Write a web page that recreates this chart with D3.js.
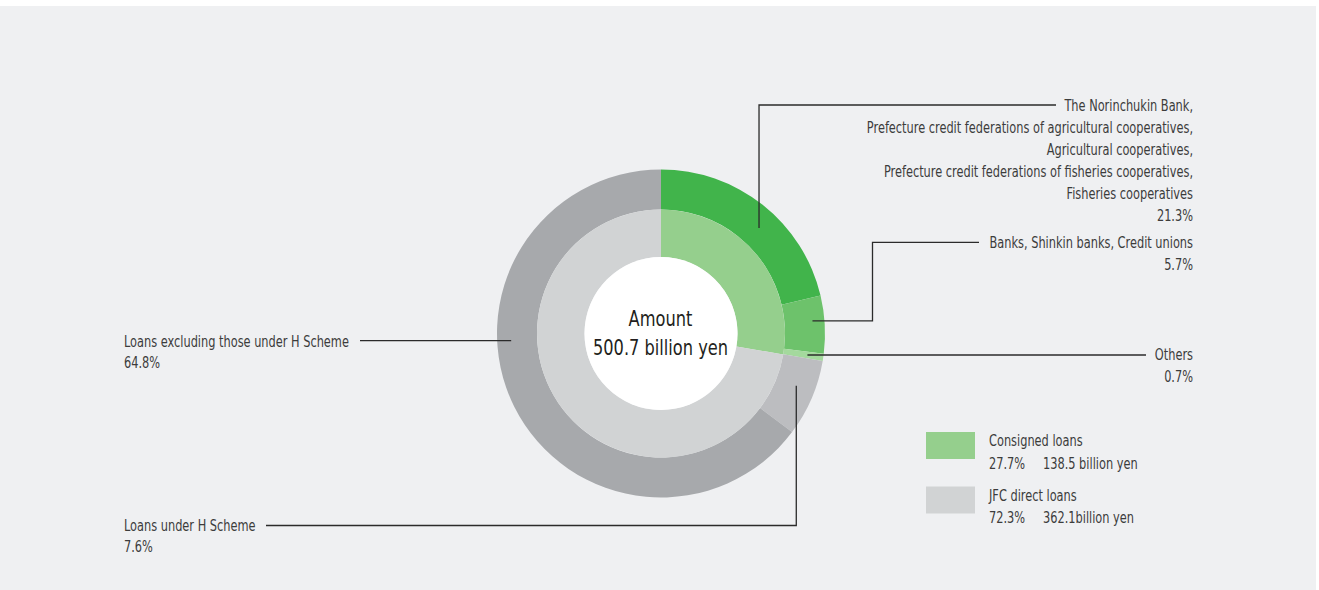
<!DOCTYPE html>
<html>
<head>
<meta charset="utf-8">
<script src="https://cdn.jsdelivr.net/npm/d3@7"></script>
<style>
  html, body { margin: 0; padding: 0; background: #ffffff; }
  svg { display: block; }
  .lbl { font-family: "DejaVu Sans Condensed", "DejaVu Sans", sans-serif; fill: #3c3c3c; }
</style>
</head>
<body>
<svg id="chart" width="1319" height="590"></svg>
<script>
// Inner ring: loan channels
const innerCategories = ["Consigned loans", "JFC direct loans"];
const innerShares = [27.7, 72.3];
const innerAmounts = [138.5, 362.1];
const innerAmountUnits = [" billion yen", "billion yen"];

// Outer ring: breakdown by lender / scheme
const outerCategories = [
  ["The Norinchukin Bank,",
   "Prefecture credit federations of agricultural cooperatives,",
   "Agricultural cooperatives,",
   "Prefecture credit federations of fisheries cooperatives,",
   "Fisheries cooperatives"],
  ["Banks, Shinkin banks, Credit unions"],
  ["Others"],
  ["Loans under H Scheme"],
  ["Loans excluding those under H Scheme"]
];
const outerShares = [21.3, 5.7, 0.7, 7.6, 64.8];

const centerTitle = "Amount";
const totalAmount = 500.7;

const innerColors = ["#95cf8d", "#d1d3d4"];
const outerColors = ["#41b44b", "#6dc26b", "#a4d99d", "#bcbdc0", "#a7a9ac"];

const W = 1319, H = 590;
const cx = 661, cy = 333.5;
const r0 = 76.5, r1 = 124, r2 = 164;
const squeeze = 0.79;   // narrow lettering

const svg = d3.select("#chart");

// panel background
svg.append("rect").attr("x", 0).attr("y", 6).attr("width", 1316).attr("height", H - 6)
  .attr("fill", "#eff0f2");

const pie = d3.pie().sort(null).value(d => d);
const innerArcs = pie(innerShares);
const outerArcs = pie(outerShares);

const innerArc = d3.arc().innerRadius(r0).outerRadius(r1);
const outerArc = d3.arc().innerRadius(r1).outerRadius(r2);

const g = svg.append("g").attr("transform", `translate(${cx},${cy})`);

g.selectAll("path.outer").data(outerArcs).join("path")
  .attr("class", "outer")
  .attr("d", outerArc)
  .attr("fill", (d, i) => outerColors[i]);

g.selectAll("path.inner").data(innerArcs).join("path")
  .attr("class", "inner")
  .attr("d", innerArc)
  .attr("fill", (d, i) => innerColors[i]);

g.append("circle").attr("r", r0).attr("fill", "#ffffff");

// multi-line narrow text block anchored at x
function textBlock(parent, x, y0, lh, lines, anchor, size, sq) {
  const t = parent.append("text").attr("class", "lbl")
    .attr("font-size", size).attr("text-anchor", anchor)
    .attr("transform", `translate(${x},0) scale(${sq},1)`);
  lines.forEach((s, k) => {
    t.append("tspan").attr("x", 0).attr("y", y0 + k * lh).text(s);
  });
  return t;
}

// centre label
textBlock(svg, cx - 0.5, cy - 7.5, 29, [centerTitle, `${totalAmount} billion yen`], "middle", 22, 0.82)
  .style("fill", "#231f20");

// leader lines and labels for the outer ring
// frac: where along the segment the leader starts; rad: radius of the start point
const leaders = [
  { frac: 0.56, rad: 144, route: p => [[p[0], p[1]], [p[0], 105], [1056, 105]],
    anchor: "end", tx: 1193, ty: 111.5, lh: 22 },
  { frac: 0.42, rad: 152, route: p => [[p[0], p[1]], [872.5, p[1]], [872.5, 242.3], [979, 242.3]],
    anchor: "end", tx: 1193, ty: 248.5, lh: 21.5 },
  { frac: 0.5, rad: 148, route: p => [[p[0], p[1]], [1146, p[1]]],
    anchor: "end", tx: 1193, ty: 360.5, lh: 21.5 },
  { frac: 0.42, rad: 145, route: p => [[p[0], p[1]], [p[0], 525.5], [266, 525.5]],
    anchor: "start", tx: 124, ty: 531.5, lh: 21 },
  { frac: 0.602, rad: 150, route: p => [[p[0], p[1]], [360, p[1]]],
    anchor: "start", tx: 124, ty: 347, lh: 21 }
];

const lineGen = d3.line();
outerArcs.forEach((a, i) => {
  const L = leaders[i];
  const ang = a.startAngle + (a.endAngle - a.startAngle) * L.frac;
  const p = [cx + L.rad * Math.sin(ang), cy - L.rad * Math.cos(ang)];
  svg.append("path").attr("d", lineGen(L.route(p)))
    .attr("fill", "none").attr("stroke", "#2b2b2b").attr("stroke-width", 1.3);
  const lines = outerCategories[i].concat([`${outerShares[i]}%`]);
  textBlock(svg, L.tx, L.ty, L.lh, lines, L.anchor, 16, squeeze);
});

// legend
const legend = svg.append("g");
innerCategories.forEach((c, i) => {
  const y0 = 432 + i * 54.5;
  legend.append("rect").attr("x", 926).attr("y", y0).attr("width", 49).attr("height", 27)
    .attr("fill", innerColors[i]);
  textBlock(legend, 989, y0 + 14.5, 22.5, [c, `${innerShares[i]}%`], "start", 16, squeeze);
  textBlock(legend, 1043, y0 + 37, 0, [`${innerAmounts[i]}${innerAmountUnits[i]}`], "start", 16, squeeze);
});
</script>
</body>
</html>
